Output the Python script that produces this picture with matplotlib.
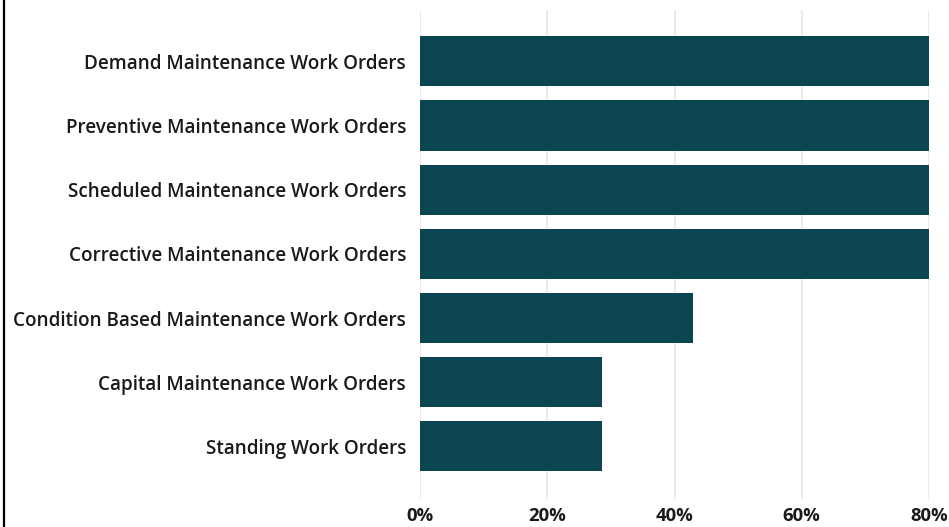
import matplotlib
matplotlib.use("Agg")
import matplotlib.pyplot as plt
from matplotlib.lines import Line2D

categories = [
    "Demand Maintenance Work Orders",
    "Preventive Maintenance Work Orders",
    "Scheduled Maintenance Work Orders",
    "Corrective Maintenance Work Orders",
    "Condition Based Maintenance Work Orders",
    "Capital Maintenance Work Orders",
    "Standing Work Orders",
]
values = [80, 80, 80, 80, 42.9, 28.6, 28.6]
xticks = [0, 20, 40, 60, 80]
xtick_labels = ["0%", "20%", "40%", "60%", "80%"]

W, H = 949, 527
fig = plt.figure(figsize=(W / 100, H / 100), dpi=100)
ax = fig.add_axes([420 / W, 1 - 499 / H, (929 - 420) / W, (499 - 10) / H])

ypos = list(range(len(categories)))
ax.barh(ypos, values, height=0.78, color="#0b4650", zorder=3)
ax.set_ylim(6.82, -0.8)
ax.set_xlim(0, 80)
ax.set_yticks(ypos)
ax.set_yticklabels(categories, fontsize=13.6, fontweight="semibold",
                   family="Open Sans", color="#1a1a1a")
ax.set_xticks(xticks)
ax.set_xticklabels(xtick_labels, fontsize=13.3, fontweight="bold",
                   family="Open Sans", color="#1a1a1a")
ax.tick_params(axis="y", length=0, pad=10)
ax.tick_params(axis="x", length=0, pad=6)
for s in ax.spines.values():
    s.set_visible(False)
ax.grid(axis="x", color="#e8e8e8", linewidth=1.2, zorder=0)
ax.set_axisbelow(True)

fig.add_artist(Line2D([3.5 / W, 3.5 / W], [0, 1], color="black", linewidth=1.6,
                      transform=fig.transFigure))

fig.savefig("out.png", dpi=100)
